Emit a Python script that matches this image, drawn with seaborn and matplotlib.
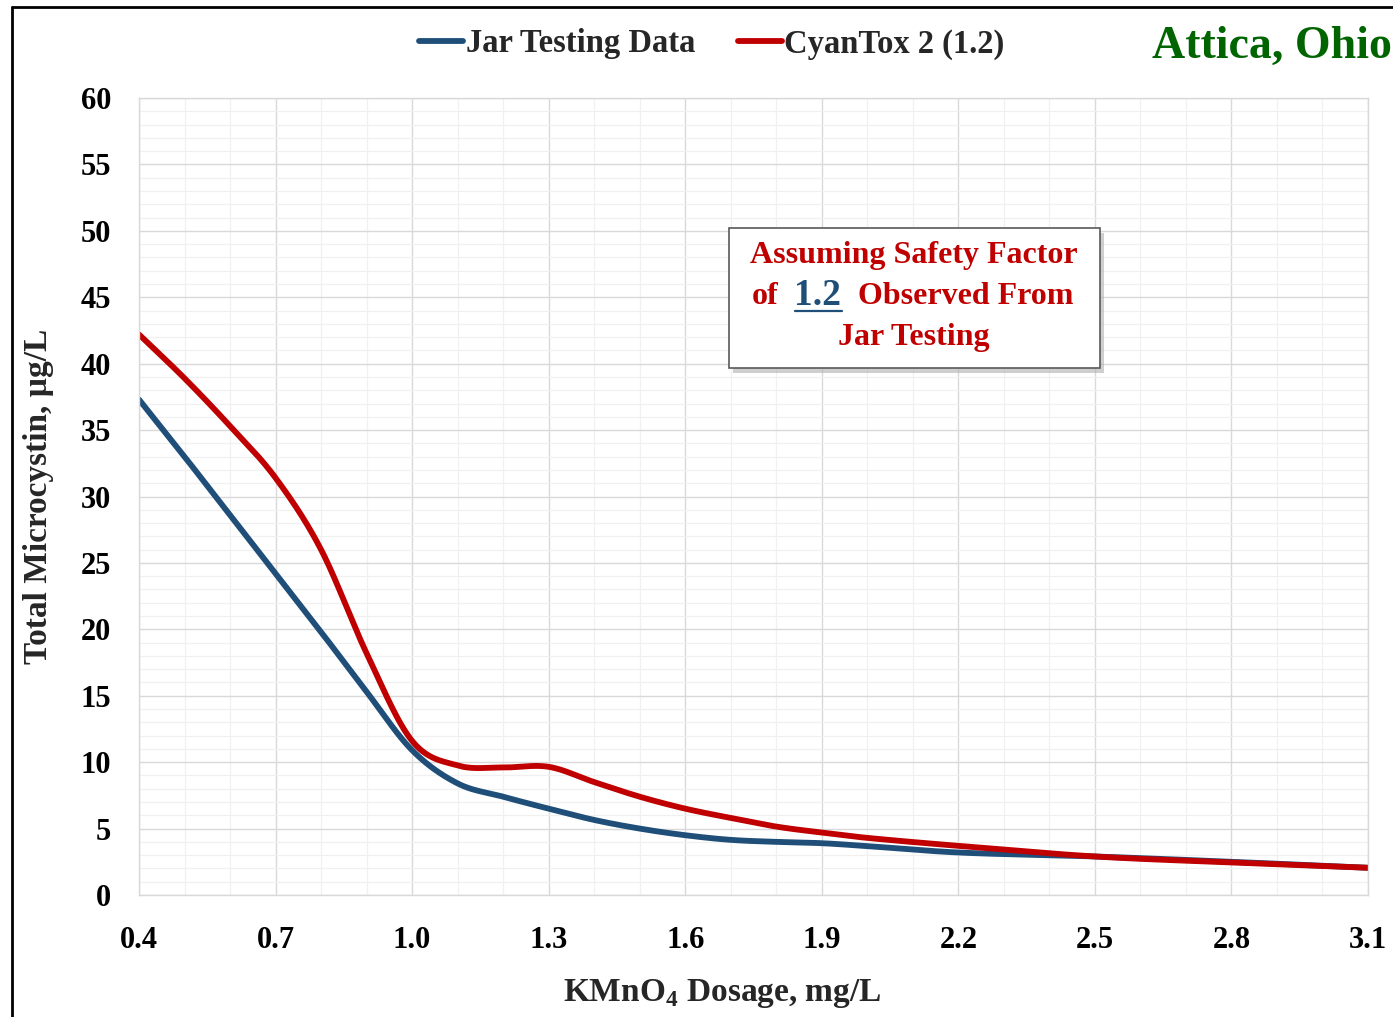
import numpy as np
import pandas as pd
import matplotlib
matplotlib.use("Agg")
import matplotlib.pyplot as plt
import seaborn as sns
from matplotlib.lines import Line2D
from matplotlib.patches import Rectangle
from matplotlib.ticker import MultipleLocator

# KMnO4 dosage (mg/L) and total microcystin (ug/L)
dose = [0.4, 0.5, 0.6, 0.7, 0.8, 0.9, 1.0, 1.1, 1.2, 1.3, 1.4, 1.5, 1.6,
        1.7, 1.8, 1.9, 2.0, 2.2, 2.5, 2.8, 3.1]
jar_testing = [37.3, 33.0, 28.6, 24.2, 19.8, 15.3, 10.9, 8.4, 7.4, 6.5, 5.65,
               5.0, 4.5, 4.15, 4.0, 3.9, 3.68, 3.2, 2.9, 2.5, 2.05]
cyantox = [42.2, 38.9, 35.3, 31.4, 26.0, 18.2, 11.6, 9.75, 9.6, 9.65, 8.5,
           7.4, 6.5, 5.8, 5.15, 4.7, 4.3, 3.7, 2.9, 2.45, 2.05]
series_names = ["Jar Testing Data", "CyanTox 2 (1.2)"]
series_colors = ["#1F4E79", "#C00000"]
x_ticks = [0.4, 0.7, 1.0, 1.3, 1.6, 1.9, 2.2, 2.5, 2.8, 3.1]
y_ticks = list(range(0, 61, 5))


def smooth_line(x, y, n=40):
    """Cardinal (Catmull-Rom style) Hermite curve through the data points."""
    x = np.asarray(x, float)
    y = np.asarray(y, float)
    m = np.empty_like(y)
    m[0] = (y[1] - y[0]) / (x[1] - x[0])
    m[-1] = (y[-1] - y[-2]) / (x[-1] - x[-2])
    m[1:-1] = (y[2:] - y[:-2]) / (x[2:] - x[:-2])
    xs, ys = [], []
    for i in range(len(x) - 1):
        h = x[i + 1] - x[i]
        t = np.linspace(0, 1, n, endpoint=False)
        h00 = 2 * t**3 - 3 * t**2 + 1
        h10 = t**3 - 2 * t**2 + t
        h01 = -2 * t**3 + 3 * t**2
        h11 = t**3 - t**2
        xs.append(x[i] + t * h)
        ys.append(h00 * y[i] + h10 * h * m[i] + h01 * y[i + 1] + h11 * h * m[i + 1])
    xs.append([x[-1]])
    ys.append([y[-1]])
    return np.concatenate(xs), np.concatenate(ys)


frames = []
for name, vals in zip(series_names, [jar_testing, cyantox]):
    sx, sy = smooth_line(dose, vals)
    frames.append(pd.DataFrame({"dose": sx, "mc": sy, "series": name}))
df = pd.concat(frames, ignore_index=True)

sns.set_theme(style="white")
plt.rcParams["font.family"] = ["Liberation Serif", "DejaVu Serif"]
plt.rcParams["font.weight"] = "bold"
plt.rcParams["mathtext.fontset"] = "custom"
plt.rcParams["mathtext.rm"] = "Liberation Serif:bold"
plt.rcParams["mathtext.bf"] = "Liberation Serif:bold"

W, H = 1393, 1017
fig = plt.figure(figsize=(W / 100, H / 100), dpi=100)
ax = fig.add_axes([139 / W, 1 - 895 / H, (1368 - 139) / W, (895 - 98) / H])

sns.lineplot(data=df, x="dose", y="mc", hue="series", hue_order=series_names,
             palette=series_colors, sort=False, linewidth=4.2, ax=ax,
             legend=False, estimator=None)

ax.set_xlim(0.4, 3.1)
ax.set_ylim(0, 60)
ax.set_xticks(x_ticks)
ax.set_xticklabels([f"{v:.1f}" for v in x_ticks])
ax.set_yticks(y_ticks)
ax.xaxis.set_minor_locator(MultipleLocator(0.1))
ax.yaxis.set_minor_locator(MultipleLocator(1))
ax.grid(which="major", color="#d9d9d9", linewidth=1.0)
ax.grid(which="minor", color="#f0f0f0", linewidth=0.9)
ax.set_axisbelow(True)
for s in ax.spines.values():
    s.set_color("#d9d9d9")
    s.set_linewidth(1.0)
ax.tick_params(axis="both", which="both", length=0, labelsize=22,
               colors="black")
ax.tick_params(axis="x", pad=22)
ax.tick_params(axis="y", pad=20)
for lab in ax.get_xticklabels() + ax.get_yticklabels():
    lab.set_fontweight("bold")

ax.set_xlabel(r"KMnO$_{\mathbf{4}}$ Dosage, mg/L", fontsize=24, fontweight="bold")
ax.set_ylabel("Total Microcystin, µg/L", fontsize=24, fontweight="bold")
ax.yaxis.set_label_coords(-(139 - 54) / (1368 - 139), 0.5)
ax.xaxis.set_label_coords((722 - 139) / (1368 - 139), -(977 - 895) / (895 - 98))

handles = [Line2D([0], [0], color=c, linewidth=4.2) for c in series_colors]
fig.legend(handles, series_names, loc="center", ncol=2,
           bbox_to_anchor=(712 / W, 1 - 44 / H), frameon=False,
           prop={"size": 23.5, "weight": "bold"}, handlelength=1.35,
           handletextpad=0.08, columnspacing=1.3)

fig.text(1392 / W, 1 - 47 / H, "Attica, Ohio", color="#006400", fontsize=33,
         fontweight="bold", ha="right", va="center")

# Annotation box with drop shadow
bx0, by0, bx1, by1 = 729, 228, 1100, 368
fig.patches.append(Rectangle(((bx0 + 4) / W, 1 - (by1 + 5) / H), (bx1 - bx0) / W,
                             (by1 - by0) / H, transform=fig.transFigure,
                             facecolor="#b0b0b0", edgecolor="none", alpha=0.6,
                             zorder=5))
fig.patches.append(Rectangle((bx0 / W, 1 - by1 / H), (bx1 - bx0) / W,
                             (by1 - by0) / H, transform=fig.transFigure,
                             facecolor="white", edgecolor="#595959",
                             linewidth=1.2, zorder=6))
red = "#C00000"
fig.text(914 / W, 1 - 255 / H, "Assuming Safety Factor", color=red, fontsize=23,
         fontweight="bold", ha="center", va="center", zorder=7)
fig.text(752 / W, 1 - 297 / H, "of", color=red, fontsize=23, fontweight="bold",
         ha="left", va="center", zorder=7)
fig.text(818 / W, 1 - 295 / H, "1.2", color="#1F4E79", fontsize=27,
         fontweight="bold", ha="center", va="center", zorder=7)
fig.add_artist(Line2D([795 / W, 842 / W], [1 - 311 / H, 1 - 311 / H],
                      transform=fig.transFigure, color="#1F4E79",
                      linewidth=1.6, zorder=7))
fig.text(858 / W, 1 - 297 / H, "Observed From", color=red, fontsize=23,
         fontweight="bold", ha="left", va="center", zorder=7)
fig.text(914 / W, 1 - 337 / H, "Jar Testing", color=red, fontsize=23,
         fontweight="bold", ha="center", va="center", zorder=7)

# Outer frame (left and top edges)
fig.add_artist(Line2D([12 / W, 12 / W], [0, 1 - 7 / H], transform=fig.transFigure,
                      color="black", linewidth=2))
fig.add_artist(Line2D([12 / W, 1], [1 - 7 / H, 1 - 7 / H],
                      transform=fig.transFigure, color="black", linewidth=2))

fig.savefig("out.png", dpi=100, facecolor="white")
